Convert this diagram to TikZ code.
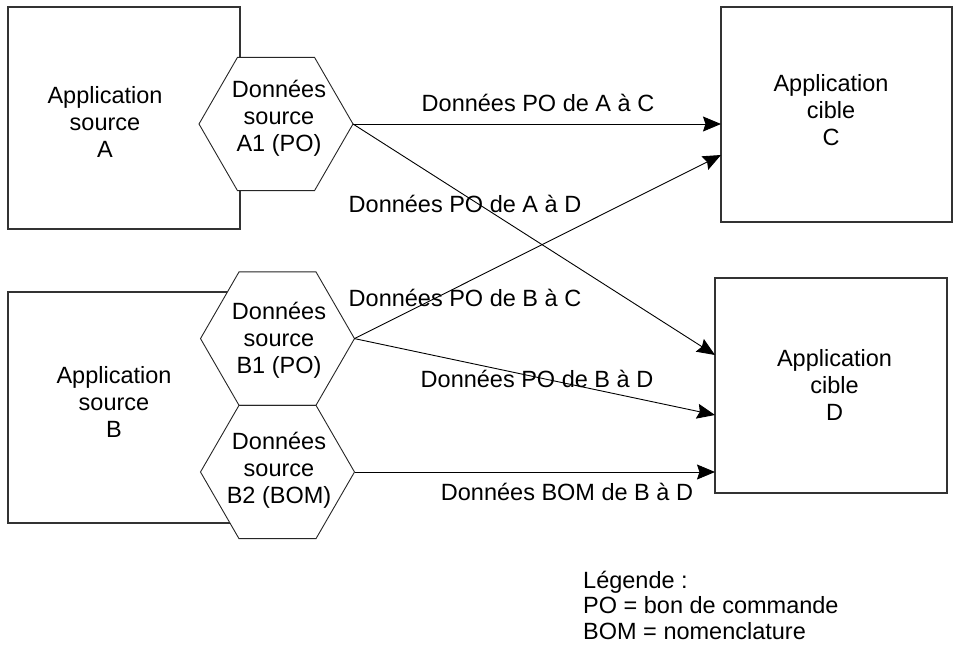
\documentclass[tikz,border=0pt]{standalone}
\usepackage{fontspec}
\setmainfont{Liberation Sans}
\usetikzlibrary{shapes.geometric,arrows.meta}
\begin{document}
\begin{tikzpicture}[x=1pt,y=-1pt,
  box/.style={draw=black!80,line width=1.1pt,rectangle,inner sep=0pt,outer sep=0pt},
  hexa/.style={regular polygon,regular polygon sides=6,minimum size=154pt,draw=black!85,line width=0.9pt,fill=white,inner sep=0pt,outer sep=0pt},
  txt/.style={font=\fontsize{23.5}{27}\selectfont,align=center,inner sep=0pt},
  lbl/.style={font=\fontsize{23.5}{27}\selectfont,inner sep=0pt},
  arr/.style={draw=black,line width=0.9pt,-{Stealth[length=18pt,width=15pt,inset=2.5pt]}}]
\useasboundingbox (0,0) rectangle (954,645);
% boxes
\node[box,minimum width=232pt,minimum height=222pt] (A) at (124,118) {};
\node[box,minimum width=232pt,minimum height=231pt] (B) at (124,407.5) {};
\node[box,minimum width=231pt,minimum height=215pt] (C) at (836.5,114.5) {};
\node[box,minimum width=232pt,minimum height=215pt] (D) at (831,385.5) {};
% hexagons
\node[hexa] (A1) at (276,124) {};
\node[hexa] (B1) at (277.5,338.6) {};
\node[hexa] (B2) at (277.5,472) {};
% texts
\node[txt] (tA) at (105,122) {Application\\source\\A};
\node[txt] (tB) at (114,402) {Application\\source\\B};
\node[txt] (tC) at (831,110) {Application\\cible\\C};
\node[txt] (tD) at (834.5,385) {Application\\cible\\D};
\node[txt] (tA1) at (279,118) {Données\\source\\A1 (PO)};
\node[txt] (tB1) at (279,340) {Données\\source\\B1 (PO)};
\node[txt] (tB2) at (279,470) {Données\\source\\B2 (BOM)};
% connectors
\draw[arr] (A1.east) -- (A1.east -| C.west);
\draw[arr] (A1.east) -- ([yshift=30.5pt]D.west);
\draw[arr] (B1.east) -- ([yshift=-40.5pt]C.west);
\draw[arr] (B1.east) -- ([yshift=-29.5pt]D.west);
\draw[arr] (B2.east) -- (B2.east -| D.west);
% labels
\node[lbl] (lAC) at (538,103) {Données PO de A à C};
\node[lbl] (lAD) at (465,204) {Données PO de A à D};
\node[lbl] (lBC) at (465,298) {Données PO de B à C};
\node[lbl] (lBD) at (537,379) {Données PO de B à D};
\node[lbl] (lBOM) at (567,492) {Données BOM de B à D};
% legend
\node[font=\fontsize{23.5}{25.5}\selectfont,align=left,inner sep=0pt,anchor=west] (leg) at (583,605) {Légende :\\PO = bon de commande\\BOM = nomenclature};
\end{tikzpicture}
\end{document}
